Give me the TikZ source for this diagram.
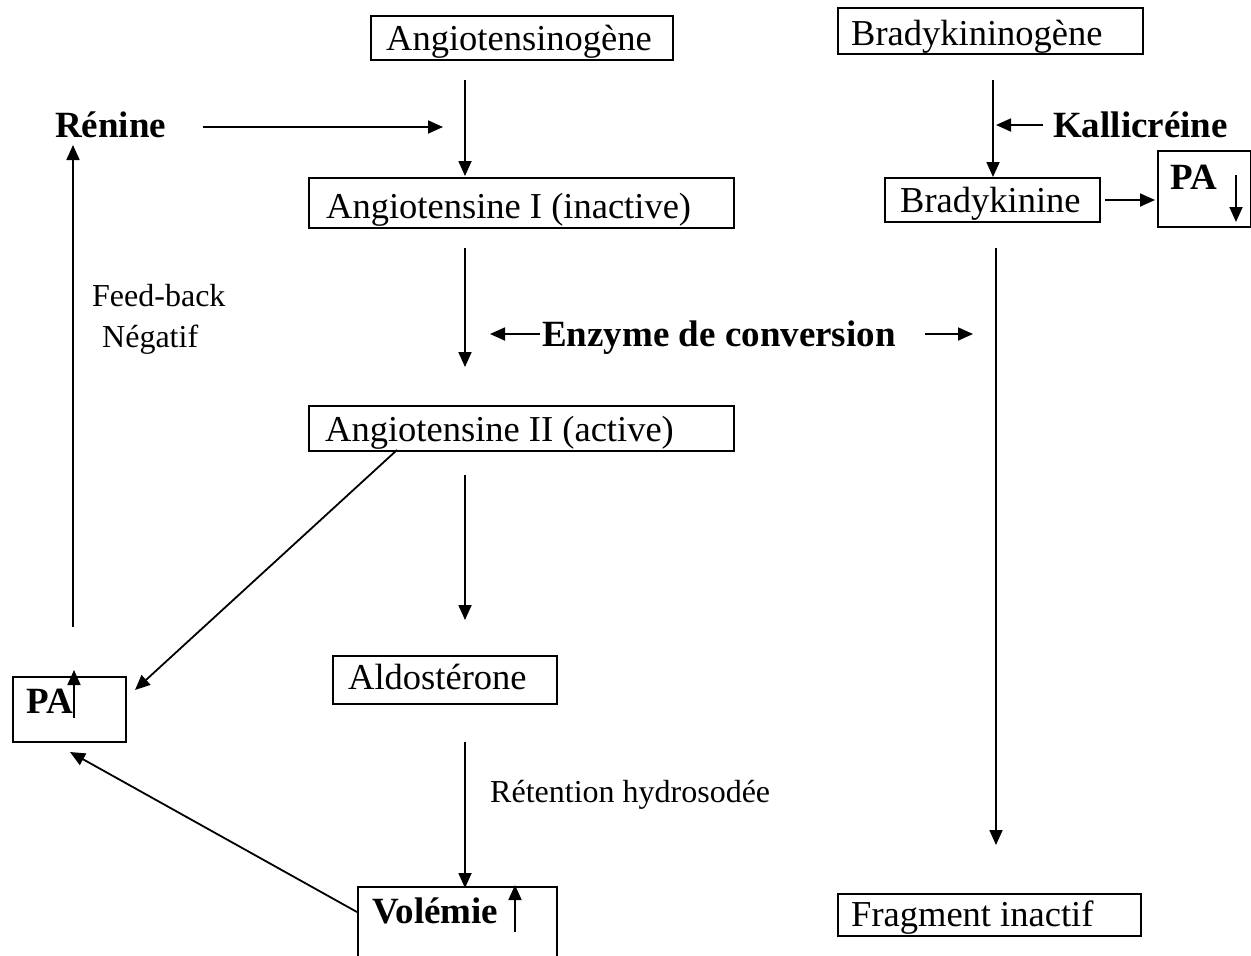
\documentclass[tikz,border=0pt]{standalone}
\usepackage{fontspec}
\setmainfont{Liberation Serif}
\usetikzlibrary{arrows.meta}
\begin{document}
\begin{tikzpicture}[x=1pt,y=-1pt,
  box/.style={draw,line width=1.8pt,anchor=north west,inner sep=0pt},
  lbl/.style={anchor=base west,inner sep=0pt,font=\fontsize{36.5}{40}\selectfont},
  blbl/.style={anchor=base west,inner sep=0pt,font=\fontsize{37}{40}\selectfont\bfseries},
  slbl/.style={anchor=base west,inner sep=0pt,font=\fontsize{32}{35}\selectfont},
  arr/.style={line width=1.8pt,-{Triangle[length=15pt,width=13pt]}},
]
\useasboundingbox (0,0) rectangle (1251,956);

% boxes
\node[box,minimum width=302pt,minimum height=44pt] (agb) at (370,15) {};
\node[box,minimum width=305pt,minimum height=46pt] (bkb) at (837,7) {};
\node[box,minimum width=425pt,minimum height=50pt] (a1b) at (308,177) {};
\node[box,minimum width=215pt,minimum height=44pt] (bkinb) at (884,177) {};
\node[box,minimum width=93pt,minimum height=76pt] (parb) at (1157,150) {};
\node[box,minimum width=425pt,minimum height=45pt] (a2b) at (308,405) {};
\node[box,minimum width=113pt,minimum height=65pt] (palb) at (12,676) {};
\node[box,minimum width=224pt,minimum height=48pt] (aldb) at (332,655) {};
\node[box,minimum width=199pt,minimum height=90pt] (volb) at (357,886) {};
\node[box,minimum width=303pt,minimum height=42pt] (fragb) at (837,893) {};

% texts
\node[lbl] (agt) at (386,50) {Angiotensinogène};
\node[lbl] (bkt) at (851,45) {Bradykininogène};
\node[lbl] (a1t) at (326,218) {Angiotensine I (inactive)};
\node[lbl] (bkint) at (900,212) {Bradykinine};
\node[blbl] (part) at (1170,189) {PA};
\node[lbl] (a2t) at (325,441) {Angiotensine II (active)};
\node[blbl] (palt) at (26,713) {PA};
\node[lbl] (aldt) at (348,689) {Aldostérone};
\node[blbl] (volt) at (372,923) {Volémie};
\node[lbl] (fragt) at (851,926) {Fragment inactif};
\node[blbl] (ren) at (55,137) {Rénine};
\node[blbl] (kal) at (1053,137) {Kallicréine};
\node[blbl] (enz) at (542,346) {Enzyme de conversion};
\node[slbl] (fb1) at (92,306) {Feed-back};
\node[slbl] (fb2) at (102,347) {Négatif};
\node[slbl] (ret) at (490,802) {Rétention hydrosodée};

% free ends
\coordinate (c1) at (465,80);   \coordinate (c1e) at (465,176);
\coordinate (c2) at (465,248);  \coordinate (c2e) at (465,367);
\coordinate (c3) at (465,475);  \coordinate (c3e) at (465,620);
\coordinate (c4) at (465,742);  \coordinate (c4e) at (465,888);
\coordinate (d1) at (993,80);   \coordinate (d1e) at (993,177);
\coordinate (d2) at (996,248);  \coordinate (d2e) at (996,845);
\coordinate (r1) at (203,127);  \coordinate (r1e) at (443,127);
\coordinate (k1) at (1043,125); \coordinate (k1e) at (996,125);
\coordinate (e1) at (540,334);  \coordinate (e1e) at (490,334);
\coordinate (e2) at (925,334);  \coordinate (e2e) at (973,334);
\coordinate (b1) at (1105,200); \coordinate (b1e) at (1155,200);
\coordinate (u1) at (73,627);   \coordinate (u1e) at (73,145);
\coordinate (g1) at (397,450);  \coordinate (g1e) at (135,690);
\coordinate (v1) at (357,912);  \coordinate (v1e) at (70,752);
\coordinate (pu) at (74,718);   \coordinate (pue) at (74,670);
\coordinate (vu) at (515,932);  \coordinate (vue) at (515,885);
\coordinate (pd) at (1236,175); \coordinate (pde) at (1236,222);

\draw[arr] (c1) -- (c1e);
\draw[arr] (c2) -- (c2e);
\draw[arr] (c3) -- (c3e);
\draw[arr] (c4) -- (c4e);
\draw[arr] (d1) -- (d1e);
\draw[arr] (d2) -- (d2e);
\draw[arr] (r1) -- (r1e);
\draw[arr] (k1) -- (k1e);
\draw[arr] (e1) -- (e1e);
\draw[arr] (e2) -- (e2e);
\draw[arr] (b1) -- (b1e);
\draw[arr] (u1) -- (u1e);
\draw[arr] (g1) -- (g1e);
\draw[arr] (v1) -- (v1e);
\draw[arr] (pu) -- (pue);
\draw[arr] (vu) -- (vue);
\draw[arr] (pd) -- (pde);
\end{tikzpicture}
\end{document}
